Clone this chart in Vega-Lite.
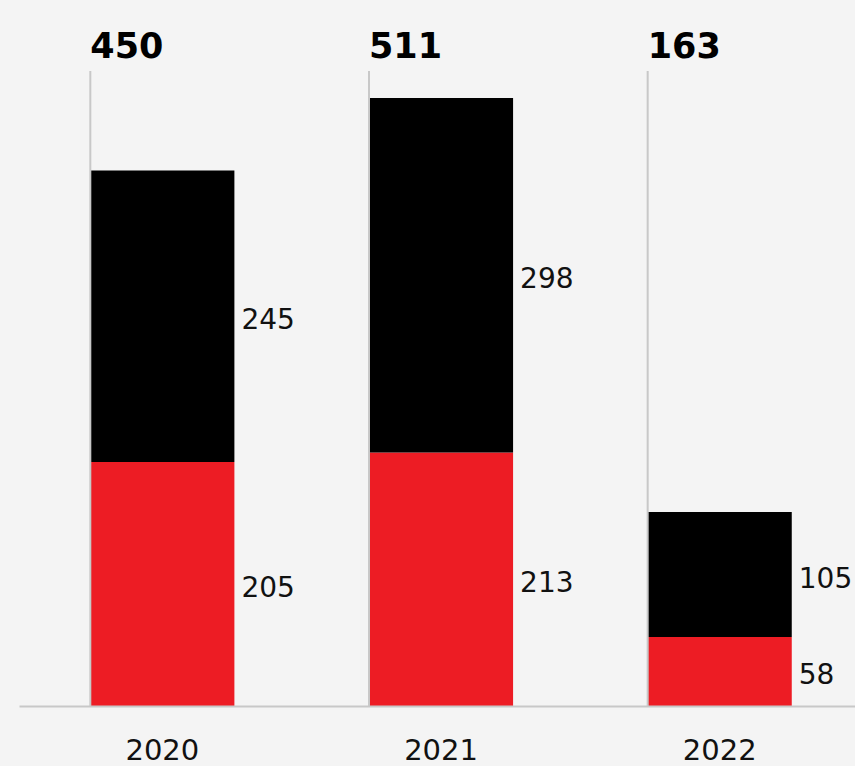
{
  "$schema": "https://vega.github.io/schema/vega-lite/v6.json",
  "autosize": {"type": "none"},
  "padding": {"left": 19, "top": 0, "right": 0, "bottom": 60},
  "width": 836,
  "height": 706,
  "background": "#f4f4f4",
  "config": {
    "view": {"stroke": null},
    "font": "DejaVu Sans"
  },
  "datasets": {
    "segments": [
      {"year": "2020", "segment": "Red", "value": 205, "order": 1},
      {"year": "2020", "segment": "Black", "value": 245, "order": 2},
      {"year": "2021", "segment": "Red", "value": 213, "order": 1},
      {"year": "2021", "segment": "Black", "value": 298, "order": 2},
      {"year": "2022", "segment": "Red", "value": 58, "order": 1},
      {"year": "2022", "segment": "Black", "value": 105, "order": 2}
    ],
    "totals": [
      {"year": "2020", "total": 450},
      {"year": "2021", "total": 511},
      {"year": "2022", "total": 163}
    ]
  },
  "encoding": {
    "x": {
      "field": "year",
      "type": "ordinal",
      "scale": {"paddingInner": 0.483, "paddingOuter": 0.2414, "align": 0.53, "round": false},
      "axis": {
        "title": null,
        "ticks": false,
        "labelAngle": 0,
        "labelFontSize": 29,
        "labelColor": "#111111",
        "labelBaseline": "alphabetic",
        "labelPadding": 53,
        "domainColor": "#c8c8c8",
        "domainWidth": 2,
        "zindex": 1
      }
    }
  },
  "layer": [
    {
      "data": {"name": "segments"},
      "mark": {"type": "bar"},
      "encoding": {
        "y": {"field": "value", "type": "quantitative", "stack": "zero", "scale": {"domain": [0, 593.3], "nice": false, "zero": true}, "axis": null},
        "color": {"field": "segment", "type": "nominal", "scale": {"domain": ["Red", "Black"], "range": ["#ed1c24", "#000000"]}, "legend": null},
        "order": {"field": "order", "type": "quantitative"}
      }
    },
    {
      "data": {"name": "segments"},
      "transform": [
        {"stack": "value", "groupby": ["year"], "sort": [{"field": "order", "order": "ascending"}], "as": ["y0", "y1"]},
        {"calculate": "(datum.y0 + datum.y1) / 2", "as": "mid"}
      ],
      "mark": {"type": "text", "align": "left", "baseline": "middle", "dx": 7, "dy": 5, "fontSize": 28, "color": "#111111"},
      "encoding": {
        "x": {"field": "year", "type": "ordinal", "bandPosition": 1},
        "y": {"field": "mid", "type": "quantitative"},
        "text": {"field": "value", "type": "quantitative"}
      }
    },
    {
      "data": {"name": "totals"},
      "mark": {"type": "rule", "color": "#c8c8c8", "strokeWidth": 2},
      "encoding": {
        "x": {"field": "year", "type": "ordinal", "bandPosition": 0},
        "y": {"datum": 533.6, "type": "quantitative"},
        "y2": {"datum": 0}
      }
    },
    {
      "data": {"name": "totals"},
      "mark": {"type": "text", "align": "left", "baseline": "alphabetic", "fontSize": 35, "fontWeight": "bold", "color": "#000000"},
      "encoding": {
        "x": {"field": "year", "type": "ordinal", "bandPosition": 0},
        "y": {"datum": 544.3, "type": "quantitative"},
        "text": {"field": "total", "type": "quantitative"}
      }
    }
  ]
}
